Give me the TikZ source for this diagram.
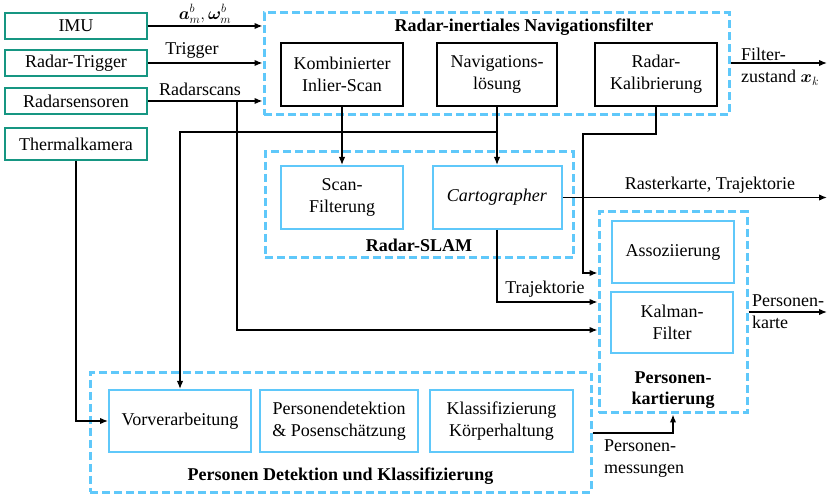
\documentclass[tikz,border=0pt]{standalone}
\usepackage{fontspec}
\setmainfont{Liberation Serif}
\usepackage{bm}
\usetikzlibrary{arrows.meta,calc}
\definecolor{sensteal}{RGB}{22,150,130}
\definecolor{lblue}{RGB}{95,200,250}
\begin{document}
\begin{tikzpicture}[x=1pt,y=-1pt,
  font=\fontsize{18}{22}\selectfont,
  sensor/.style={draw=sensteal, line width=1.6pt, minimum width=142pt, minimum height=26pt, inner sep=0pt},
  blk/.style={draw=black, line width=1.6pt, align=center, inner sep=0pt, minimum width=122pt, minimum height=63pt},
  lbox/.style={draw=lblue, line width=2pt, align=center, inner sep=0pt, minimum height=62pt},
  grp/.style={draw=lblue, dash pattern=on 8pt off 4pt, line width=3pt, inner sep=0pt},
  conn/.style={line width=1.4pt},
  arr/.style={conn, -{Latex[length=8pt,width=6.5pt]}},
  ttl/.style={font=\fontsize{18}{21}\selectfont\bfseries, align=center},
  lbl/.style={align=left, inner sep=0pt},
]
\useasboundingbox (0,0) rectangle (828,494);

% groups
\node[grp, minimum width=465pt, minimum height=102pt] (rinf) at (496.5,64) {};
\node[grp, minimum width=308pt, minimum height=106pt] (slam) at (419,205) {};
\node[grp, minimum width=148pt, minimum height=201pt] (pk) at (673,312.5) {};
\node[grp, minimum width=501pt, minimum height=119pt] (pd) at (340.5,432.5) {};

% group titles
\node[ttl] (trinf) at (524,27) {Radar-inertiales Navigationsfilter};
\node[ttl] (tslam) at (419,245) {Radar-SLAM};
\node[ttl] (tpk) at (673,390) {Personen-\\kartierung};
\node[ttl] (tpd) at (340.5,476) {Personen Detektion und Klassifizierung};

% sensors
\node[sensor] (imu) at (76,26) {IMU};
\node[sensor] (trig) at (76,63) {Radar-Trigger};
\node[sensor] (radar) at (76,101) {Radarsensoren};
\node[sensor, minimum height=32pt] (therm) at (76,144) {Thermalkamera};

% navigation filter
\node[blk] (kis) at (342,74.5) {Kombinierter\\Inlier-Scan};
\node[blk, minimum width=120pt] (nav) at (497,74.5) {Navigations-\\lösung};
\node[blk] (kal) at (656,74.5) {Radar-\\Kalibrierung};

% SLAM
\node[lbox, minimum width=122pt, minimum height=63pt] (scan) at (342,197.5) {Scan-\\Filterung};
\node[lbox, minimum width=129pt, minimum height=63pt] (carto) at (497,197.5) {\textit{Cartographer}};

% Personenkartierung
\node[lbox, minimum width=122pt] (asso) at (673,252) {Assoziierung};
\node[lbox, minimum width=122pt, minimum height=61pt] (kalman) at (672,322.5) {Kalman-\\Filter};

% Personen Detektion
\node[lbox, minimum width=142pt] (vor) at (180,421) {Vorverarbeitung};
\node[lbox, minimum width=158pt] (pers) at (339,421) {Personendetektion\\\& Posenschätzung};
\node[lbox, minimum width=143pt] (klass) at (501.5,421) {Klassifizierung\\Körperhaltung};

% helper coordinates
\coordinate (rsx) at (237,0);
\coordinate (y132) at (0,132);
\coordinate (k134) at (583,134);
\coordinate (y273) at (0,273);
\coordinate (y302) at (0,302);
\coordinate (y330) at (0,330);
\coordinate (y433) at (0,433);
\coordinate (y312) at (0,312);
\coordinate (y63) at (0,63);
\coordinate (rend) at (827,0);

% inputs
\draw[arr] (imu.east) -- (imu.east -| rinf.west);
\draw[arr] (trig.east) -- (trig.east -| rinf.west);
\draw[arr] (radar.east) -- (radar.east -| rinf.west);
\node[lbl] (limu) at (205,14) {$\bm{a}_m^b, \bm{\omega}_m^b$};
\node[lbl] (ltrig) at (192,50) {Trigger};
\node[lbl] (lradar) at (200,89) {Radarscans};

% radarscans to Personenkartierung
\draw[arr] (radar.east -| rsx) |- (pk.west |- y330);

% nav filter to SLAM
\draw[arr] (kis.south) -- (scan.north);
\draw[arr] (nav.south) -- (carto.north);
\draw[arr] (nav.south |- y132) -| (vor.north);

% calibration to Personenkartierung
\draw[arr] (kal.south) |- (k134) |- (pk.west |- y273);

% cartographer outputs
\draw[arr] (carto.east) -- (carto.east -| rend);
\node[lbl] (lrk) at (710,185) {Rasterkarte, Trajektorie};
\draw[arr] (carto.south) |- (pk.west |- y302);
\node[lbl] (ltraj) at (545,289) {Trajektorie};

% filter state output
\draw[arr] (rinf.east |- y63) -- (rend |- y63);
\node[lbl, anchor=west] (lfz) at (741,66.5) {Filter-\\zustand $\bm{x}_k$};

% Personenkarte
\draw[arr] (pk.east |- y312) -- (rend |- y312);
\node[lbl, anchor=west] (lpk) at (752,312) {Personen-\\karte};

% thermal camera
\draw[arr] (therm.south) |- (vor.west);

% Personenmessungen
\draw[arr] (pd.east |- y433) -| (pk.south);
\node[lbl, anchor=west] (lpm) at (604,459) {Personen-\\messungen};
\end{tikzpicture}
\end{document}
